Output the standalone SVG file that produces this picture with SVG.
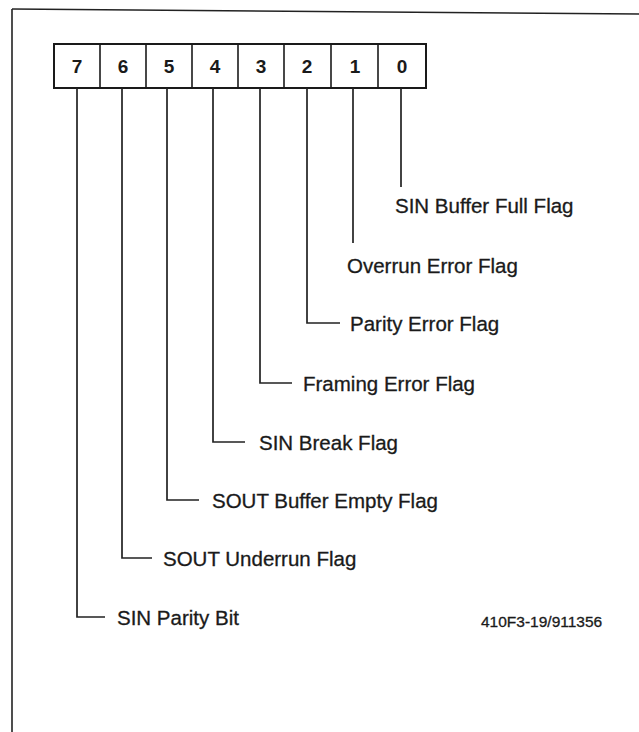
<svg xmlns="http://www.w3.org/2000/svg" width="639" height="732" viewBox="0 0 639 732">
<style>
.frame{fill:none;stroke:#222;stroke-width:1.6}
.cell{fill:#fff;stroke:#1a1a1a;stroke-width:2}
.div{stroke:#1a1a1a;stroke-width:1.6}
.bit{font-family:"Liberation Sans",Arial,sans-serif;font-size:19px;font-weight:bold;fill:#1a1a1a;text-anchor:middle}
.lbl{font-family:"Liberation Sans",Arial,sans-serif;font-size:20.5px;fill:#1a1a1a;stroke:#1a1a1a;stroke-width:0.3}
.code{font-family:"Liberation Sans",Arial,sans-serif;font-size:15.5px;fill:#1a1a1a;stroke:#1a1a1a;stroke-width:0.3}
.conn{fill:none;stroke:#222;stroke-width:1.7}
</style>
<rect width="639" height="732" fill="#fff"/>
<g id="frame">
<line class="frame" x1="12" y1="9" x2="639" y2="14"/>
<line class="frame" x1="12" y1="9" x2="12" y2="732"/>
</g>
<g id="register">
<rect class="cell" x="54" y="44" width="372" height="44"/>
<line class="div" x1="100" y1="44" x2="100" y2="88"/>
<line class="div" x1="146" y1="44" x2="146" y2="88"/>
<line class="div" x1="192" y1="44" x2="192" y2="88"/>
<line class="div" x1="238" y1="44" x2="238" y2="88"/>
<line class="div" x1="284" y1="44" x2="284" y2="88"/>
<line class="div" x1="331" y1="44" x2="331" y2="88"/>
<line class="div" x1="378" y1="44" x2="378" y2="88"/>
<text class="bit" x="77" y="73">7</text>
<text class="bit" x="123" y="73">6</text>
<text class="bit" x="169" y="73">5</text>
<text class="bit" x="215" y="73">4</text>
<text class="bit" x="261" y="73">3</text>
<text class="bit" x="307" y="73">2</text>
<text class="bit" x="355" y="73">1</text>
<text class="bit" x="402" y="73">0</text>
</g>
<g id="connectors">
<polyline class="conn" points="401,88 401,187"/>
<polyline class="conn" points="353,88 353,243"/>
<polyline class="conn" points="307,88 307,323 340,323"/>
<polyline class="conn" points="260,88 260,383 292,383"/>
<polyline class="conn" points="213,88 213,442 245,442"/>
<polyline class="conn" points="167,88 167,500 199,500"/>
<polyline class="conn" points="122,88 122,558 152,558"/>
<polyline class="conn" points="77,88 77,617 105,617"/>
</g>
<g id="label-bit0"><text class="lbl" x="395" y="213">SIN Buffer Full Flag</text></g>
<g id="label-bit1"><text class="lbl" x="347" y="273">Overrun Error Flag</text></g>
<g id="label-bit2"><text class="lbl" x="350" y="331">Parity Error Flag</text></g>
<g id="label-bit3"><text class="lbl" x="303" y="391">Framing Error Flag</text></g>
<g id="label-bit4"><text class="lbl" x="259" y="450">SIN Break Flag</text></g>
<g id="label-bit5"><text class="lbl" x="212" y="508">SOUT Buffer Empty Flag</text></g>
<g id="label-bit6"><text class="lbl" x="163" y="566">SOUT Underrun Flag</text></g>
<g id="label-bit7"><text class="lbl" x="117" y="625">SIN Parity Bit</text></g>
<g id="figure-code"><text class="code" x="481" y="627">410F3-19/911356</text></g>
</svg>
